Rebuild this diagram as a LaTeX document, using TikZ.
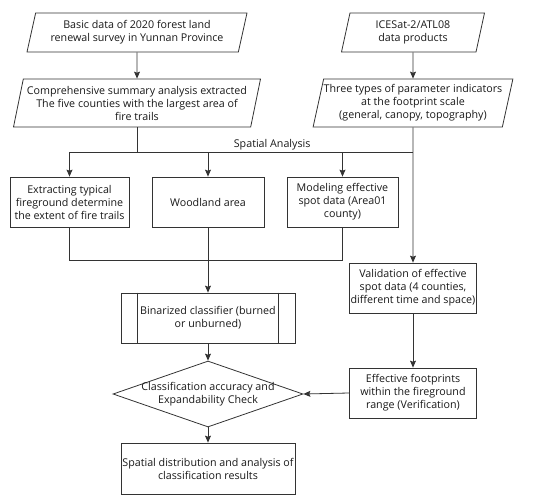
\documentclass[tikz,border=0pt]{standalone}
\usepackage{fontspec}
\setmainfont{Open Sans}
\usetikzlibrary{shapes.geometric,arrows.meta,calc}
\begin{document}
\begin{tikzpicture}[x=1pt,y=-1pt,
  font=\fontsize{10.7}{13}\selectfont,
  every node/.style={text=black!90},
  ln/.style={draw=black!80, line width=0.8pt},
  arr/.style={ln, -{Stealth[length=7pt,width=6pt,inset=1.2pt]}},
  para/.style={ln, trapezium, trapezium stretches body, align=center, inner sep=0pt},
  boxn/.style={ln, rectangle, align=center, inner sep=0pt, minimum height=50pt},
  decision/.style={ln, diamond, minimum width=190pt, minimum height=66pt, inner sep=0pt}
]
\useasboundingbox (0,0) rectangle (550,501);

\node[para, trapezium left angle=70, trapezium right angle=110, minimum width=220pt, minimum height=39pt] (p1) at (137,32.5)
  {Basic data of 2020 forest land\\renewal survey in Yunnan Province};
\node[para, trapezium left angle=74, trapezium right angle=106, minimum width=247pt, minimum height=48pt] (p2) at (137,103)
  {Comprehensive summary analysis extracted\\The five counties with the largest area of\\fire trails};
\node[para, trapezium left angle=70, trapezium right angle=110, minimum width=143pt, minimum height=39pt] (p3) at (413,32.5)
  {ICESat-2/ATL08\\data products};
\node[para, trapezium left angle=74, trapezium right angle=106, minimum width=198pt, minimum height=48pt] (p4) at (413,103)
  {Three types of parameter indicators\\at the footprint scale\\(general, canopy, topography)};

\node[boxn, minimum width=119pt] (b1) at (69.5,202)
  {Extracting typical\\fireground determine\\the extent of fire trails};
\node[boxn, minimum width=112pt] (b2) at (208,202) {Woodland area};
\node[boxn, minimum width=111pt] (b3) at (342.5,202)
  {Modeling effective\\spot data (Area01\\county)};

\node[boxn, minimum width=174pt] (bin) at (208,318)
  {Binarized classifier (burned\\or unburned)};
\node[boxn, minimum width=127pt] (val) at (413,288)
  {Validation of effective\\spot data (4 counties,\\different time and space)};
\node[boxn, minimum width=127pt] (eff) at (413,393)
  {Effective footprints\\within the fireground\\range (Verification)};
\node[decision, label={[align=center,text=black!90]center:Classification accuracy and\\Expandability Check}] (dia) at (208,394) {};
\node[boxn, minimum width=174pt, minimum height=51pt] (fin) at (208,468.5)
  {Spatial distribution and analysis of\\classification results};

\coordinate (bus) at (0,152);
\coordinate (mrg) at (0,260);

\draw[arr] (p1.south) -- (p2.north);
\draw[arr] (p3.south) -- (p4.north);
\draw[ln] (p2.south) -- (p2.south |- bus);
\draw[ln] (b1.north |- bus) -- node[above, pos=0.59, inner sep=2pt] {Spatial Analysis} (p4.south |- bus);
\draw[arr] (b1.north |- bus) -- (b1.north);
\draw[arr] (b2.north |- bus) -- (b2.north);
\draw[arr] (b3.north |- bus) -- (b3.north);
\draw[arr] (p4.south) -- (val.north);

\draw[ln] (b1.south) -- (b1.south |- mrg) -- (b3.south |- mrg) -- (b3.south);
\draw[arr] (b2.south) -- (bin.north);
\draw[ln] ([xshift=17pt]bin.north west) -- ([xshift=17pt]bin.south west);
\draw[ln] ([xshift=-17pt]bin.north east) -- ([xshift=-17pt]bin.south east);

\draw[arr] (val.south) -- (eff.north);
\draw[arr] (bin.south) -- (dia.north);
\draw[arr] (eff.west) -- (dia.east);
\draw[arr] (dia.south) -- (fin.north);
\end{tikzpicture}
\end{document}
